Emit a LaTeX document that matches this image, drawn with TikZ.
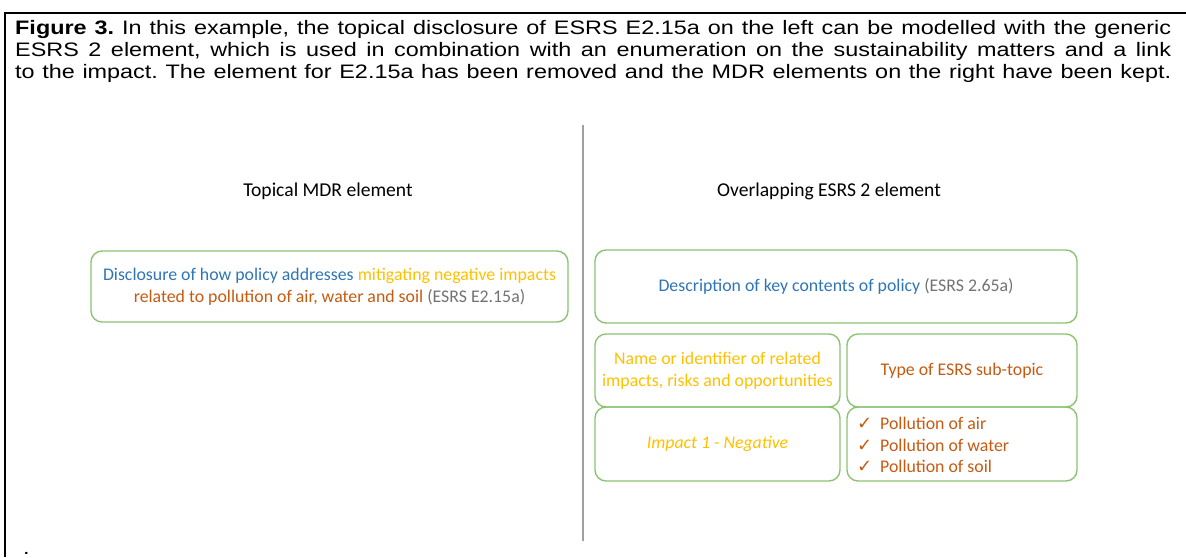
\documentclass[tikz,border=0pt]{standalone}
\usepackage{fontspec}
\setmainfont{Liberation Sans}
\newfontfamily\capfont[FakeStretch=1.2]{Liberation Sans}
\newfontfamily\calib{Carlito}
\newfontfamily\djv{DejaVu Sans}
\definecolor{cblue}{HTML}{2E75B6}
\definecolor{cyel}{HTML}{FFC000}
\definecolor{corg}{HTML}{C55A11}
\definecolor{cgray}{HTML}{767171}
\definecolor{cgreen}{RGB}{140,195,115}
\definecolor{cdiv}{RGB}{160,160,160}
\frenchspacing
\tikzset{
  gbox/.style={draw=cgreen, line width=1.4pt, rounded corners=11pt, inner sep=0pt, align=center,
    font=\calib\fontsize{17.8}{21.5}\selectfont},
  hdr/.style={font=\calib\fontsize{19.6}{23}\selectfont, inner sep=0pt},
  capline/.style={anchor=base west, inner sep=0pt, font=\capfont\fontsize{19.5}{22}\selectfont},
}
\newcommand{\ck}{\makebox[23pt][l]{\djv\fontsize{18}{18}\selectfont ✓}}
\begin{document}
\begin{tikzpicture}[x=1pt,y=-1pt]
\useasboundingbox (0,0) rectangle (1186,557);
% frame
\draw[line width=2.5pt] (5,557) -- (5,13) -- (1186,13);
% caption
\node[capline] (c1) at (15,34) {\makebox[1156pt][s]{\textbf{Figure 3.} In this example, the topical disclosure of ESRS E2.15a on the left can be modelled with the generic}};
\node[capline] (c2) at (15,56) {\makebox[1156pt][s]{ESRS 2 element, which is used in combination with an enumeration on the sustainability matters and a link}};
\node[capline] (c3) at (15,78) {\makebox[1156pt][s]{to the impact. The element for E2.15a has been removed and the MDR elements on the right have been kept.}};
\node[capline] (dot) at (23,554) {.};
% divider
\coordinate (dtop) at (583,125);
\coordinate (dbot) at (583,541);
\draw[cdiv, line width=1.3pt] (dtop) -- (dbot);
% headers
\node[hdr] (h1) at (328,191) {Topical MDR element};
\node[hdr] (h2) at (829,191) {Overlapping ESRS 2 element};
% left box
\node[gbox, minimum width=477pt, minimum height=71pt] (lb) at (329.5,286.5)
  {\raisebox{-2pt}{\parbox{470pt}{\centering\textcolor{cblue}{Disclosure of how policy addresses} \textcolor{cyel}{mitigating negative impacts}\\
   \textcolor{corg}{related to pollution of air, water and soil} \textcolor{cgray}{(ESRS E2.15a)}}}};
% right boxes
\node[gbox, minimum width=482pt, minimum height=73pt] (rt) at (836,286.5)
  {\raisebox{-2pt}{\textcolor{cblue}{Description of key contents of policy} \textcolor{cgray}{(ESRS 2.65a)}}};
\node[gbox, minimum width=245pt, minimum height=73pt] (r2l) at (717.5,370.5)
  {\textcolor{cyel}{Name or identifier of related}\\\textcolor{cyel}{impacts, risks and opportunities}};
\node[gbox, minimum width=230pt, minimum height=73pt] (r2r) at (962,370.5)
  {\textcolor{corg}{Type of ESRS sub-topic}};
\node[gbox, minimum width=245pt, minimum height=74pt] (r3l) at (717.5,444)
  {\textcolor{cyel}{\itshape Impact 1 - Negative}};
\node[gbox, minimum width=230pt, minimum height=74pt] (r3r) at (962,444) {};
\node[anchor=west, inner sep=0pt, align=left, text=corg, font=\calib\fontsize{17.8}{21.5}\selectfont] (lst) at (857,445)
  {\ck Pollution of air\\
   \ck Pollution of water\\
   \ck Pollution of soil};
\end{tikzpicture}
\end{document}
